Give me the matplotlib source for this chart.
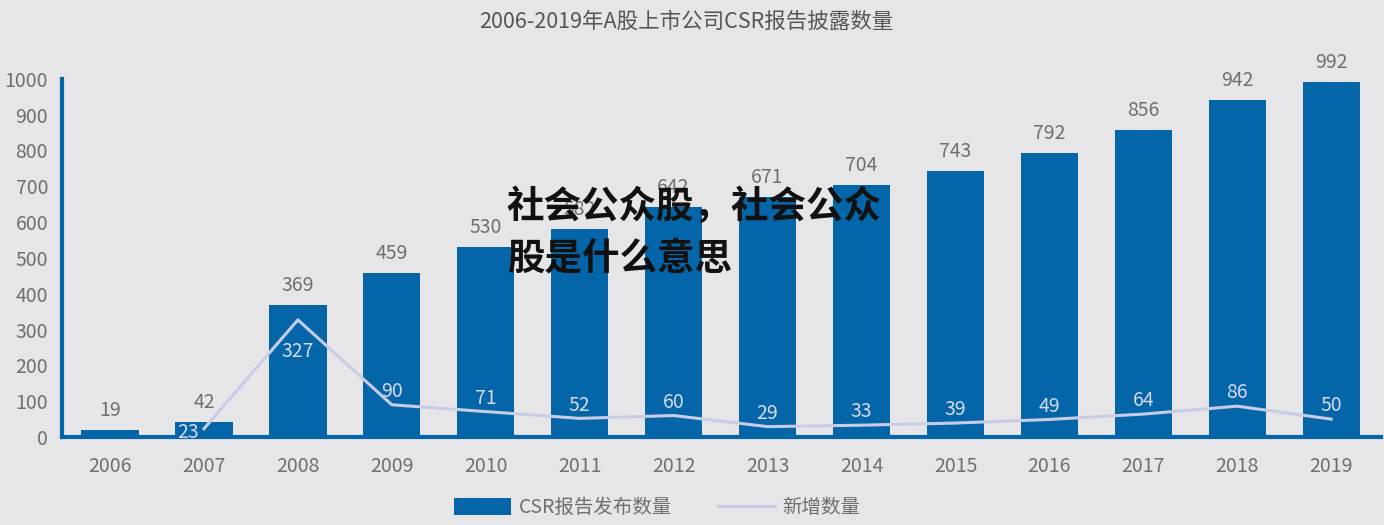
import numpy as np
import matplotlib.pyplot as plt

plt.rcParams['font.family'] = ['Noto Sans CJK SC', 'DejaVu Sans']

years = ['2006', '2007', '2008', '2009', '2010', '2011', '2012',
         '2013', '2014', '2015', '2016', '2017', '2018', '2019']
reports = [19, 42, 369, 459, 530, 582, 642, 671, 704, 743, 792, 856, 942, 992]
new_years = years[1:]
new_counts = [23, 327, 90, 71, 52, 60, 29, 33, 39, 49, 64, 86, 50]

bg = '#e6e6e8'
blue = '#0465a8'
lav = '#c9cce6'
grey = '#6f6f6f'

fig = plt.figure(figsize=(13.84, 5.25), dpi=100, facecolor=bg)
ax = fig.add_axes([0.0448, 0.1676, 0.953, 0.6824], facecolor=bg)

x = np.arange(len(years))
xn = np.arange(1, len(years))
bars = ax.bar(x, reports, width=0.61, color=blue, label='CSR报告发布数量', zorder=2)
line, = ax.plot(xn, new_counts, color=lav, lw=2.2, label='新增数量', zorder=3)

for xi, v in zip(x, reports):
    ax.text(xi, v + 25, str(v), ha='center', va='bottom', fontsize=14,
            color=grey, fontweight='light')
for i, (xi, v) in enumerate(zip(xn, new_counts)):
    if i == 0:
        # first point sits on the axis, label drawn beside it
        ax.text(xi - 0.17, v - 10, str(v), ha='center', va='center', fontsize=14, color='#d6d9f2')
    elif v > 300:
        ax.text(xi, v - 58, str(v), ha='center', va='top', fontsize=14, color='#d6d9f2')
    else:
        ax.text(xi, v + 8, str(v), ha='center', va='bottom', fontsize=14, color='#d6d9f2')

ax.set_xlim(-0.511, 13.53)
ax.set_ylim(0, 1000)
ax.set_xticks(x)
ax.set_xticklabels(years)
ax.set_yticks(np.arange(0, 1001, 100))
ax.tick_params(axis='both', length=0, labelsize=14, labelcolor=grey)
ax.tick_params(axis='x', pad=14)
ax.tick_params(axis='y', pad=10)

for s in ['top', 'right']:
    ax.spines[s].set_visible(False)
ax.spines['left'].set_color(blue)
ax.spines['left'].set_linewidth(3)
ax.spines['bottom'].set_color(blue)
ax.spines['bottom'].set_linewidth(3)

fig.text(0.496, 0.958, '2006-2019年A股上市公司CSR报告披露数量', ha='center', va='center',
         fontsize=15.5, color='#555555')

leg = fig.legend([bars, line], ['CSR报告发布数量', '新增数量'], loc='center',
                 bbox_to_anchor=(0.475, 0.033), ncol=2, frameon=False,
                 fontsize=14, handlelength=2.9, handleheight=0.95, handletextpad=0.4,
                 columnspacing=2.4)
for t in leg.get_texts():
    t.set_color(grey)

fig.text(0.366, 0.645, '社会公众股，社会公众\n股是什么意思', ha='left', va='top',
         fontsize=27, fontweight='heavy', color='#111111', linespacing=1.45, zorder=10)

fig.savefig('out.png', dpi=100, facecolor=bg)
